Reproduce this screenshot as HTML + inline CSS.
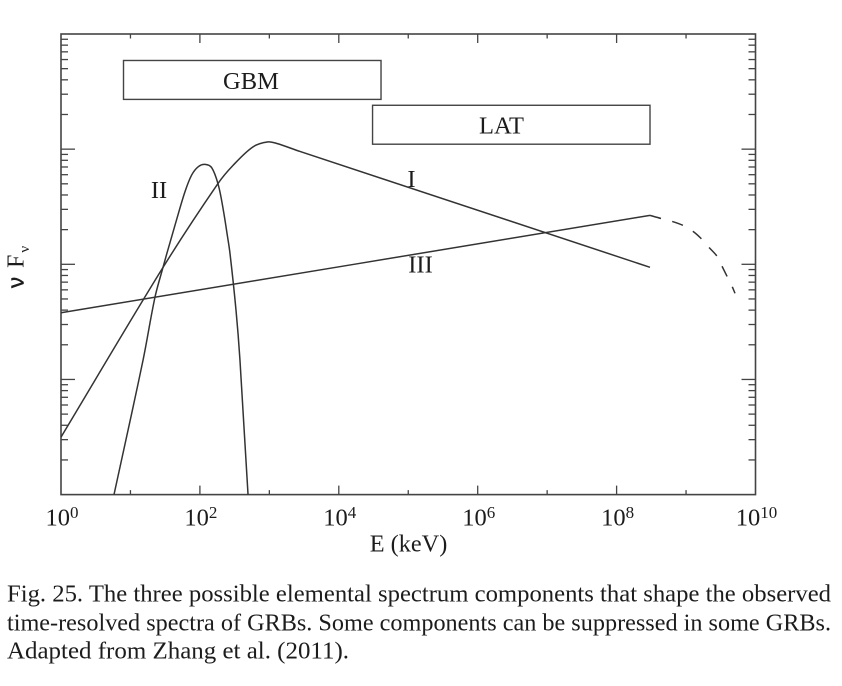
<!DOCTYPE html>
<html>
<head>
<meta charset="utf-8">
<title>GRB spectrum components</title>
<style>
html,body{margin:0;padding:0;background:#fff;}
svg{display:block;filter:blur(0.3px);}
text{font-family:"Liberation Serif",serif;fill:#1c1c1c;}
</style>
</head>
<body>
<svg id="chart" xmlns="http://www.w3.org/2000/svg" width="842" height="686" viewBox="0 0 842 686">
  <rect x="61" y="34" width="694.5" height="460.6" fill="none" stroke="#444" stroke-width="1.6"/>
  <g id="ticks"></g>
  <g id="xlabels"></g>
  <g id="bands"></g>
  <g id="series"></g>
  <text x="408.5" y="551.5" font-size="24.3" text-anchor="middle">E (keV)</text>
  <text transform="translate(23.5,288) rotate(-90)" font-size="24"><tspan font-family="Liberation Sans" stroke="#1c1c1c" stroke-width="0.5" font-size="22">&#957;</tspan><tspan dx="9">F</tspan><tspan font-size="15" dx="2" dy="5.5">&#957;</tspan></text>
  <text x="411.5" y="187" font-size="24.5" text-anchor="middle">I</text>
  <text x="159" y="198" font-size="24.5" text-anchor="middle">II</text>
  <text x="420.5" y="272.5" font-size="24.5" text-anchor="middle">III</text>
  <g font-size="24">
    <text x="7" y="601.5" textLength="824" lengthAdjust="spacingAndGlyphs">Fig. 25. The three possible elemental spectrum components that shape the observed</text>
    <text x="7" y="630.5" textLength="824" lengthAdjust="spacingAndGlyphs">time-resolved spectra of GRBs. Some components can be suppressed in some GRBs.</text>
    <text x="7" y="658.5" textLength="342" lengthAdjust="spacingAndGlyphs">Adapted from Zhang et al. (2011).</text>
  </g>
</svg>
<script>
// Data: log10(E / keV) and log10(nuFnu) in decades above the bottom of the axis
var xTickExponents = [0, 2, 4, 6, 8, 10];
var yDecades = [0, 1, 2, 3];
var componentILogE = [0, 1.469, 2.261, 2.477, 2.765, 2.981, 3.11, 3.441, 8.481];
var componentILogF = [0.499, 1.973, 2.702, 2.859, 3.02, 3.063, 3.049, 2.98, 1.974];
var componentIILogE = [0.763, 1.181, 1.353, 1.469, 1.526, 1.656, 1.785, 1.882, 1.977, 2.073, 2.17, 2.265, 2.337, 2.394, 2.433, 2.52, 2.577, 2.693];
var componentIILogF = [0, 1.167, 1.714, 1.974, 2.098, 2.37, 2.63, 2.776, 2.848, 2.868, 2.839, 2.689, 2.472, 2.255, 2.096, 1.601, 1.167, 0];
var componentIIILogE = [0, 8.481];
var componentIIILogF = [1.579, 2.425];
var cutoffLogE = [8.481, 8.639, 8.798, 8.956, 9.1, 9.215, 9.33, 9.446, 9.518, 9.59, 9.662, 9.705];
var cutoffLogF = [2.425, 2.398, 2.373, 2.338, 2.286, 2.225, 2.147, 2.07, 1.983, 1.896, 1.809, 1.748];
var gbmLogE = [0.9, 4.608];
var gbmLogF = [3.432, 3.77];
var gbmLabelLogE = [2.735];
var latLogE = [4.486, 8.481];
var latLogF = [3.043, 3.381];
var latLabelLogE = [6.343];

var NS = 'http://www.w3.org/2000/svg';
function xScale(v) { return 61 + v * 69.45; }
function yScale(v) { return 494.6 - v * 115.15; }
function make(tag, parent) {
  var el = document.createElementNS(NS, tag);
  parent.appendChild(el);
  return el;
}
function tickLine(x1, y1, x2, y2, parent, width) {
  var el = make('line', parent);
  el.setAttribute('x1', x1);
  el.setAttribute('y1', y1);
  el.setAttribute('x2', x2);
  el.setAttribute('y2', y2);
  el.setAttribute('stroke', '#444');
  el.setAttribute('stroke-width', width);
  
  
}
var ticksG = document.getElementById('ticks');
var i, d, k;
for (i = 1; i < 10; i++) {
  var major = i % 2 === 0;
  var tlen = major ? 9 : 4.5;
  tickLine(xScale(i), 494.6, xScale(i), 494.6 - tlen, ticksG, 1.3);
  tickLine(xScale(i), 34, xScale(i), 34 + tlen, ticksG, 1.3);
}
for (d = 0; d < yDecades.length; d++) {
  for (k = 1; k < 10; k++) {
    if (d === 0 && k === 1) continue;
    var yv = yScale(yDecades[d] + Math.log10(k));
    var ylen = k === 1 ? 14 : 7;
    tickLine(61, yv, 61 + ylen, yv, ticksG, 1.3);
    tickLine(755.5, yv, 755.5 - ylen, yv, ticksG, 1.3);
  }
}
var labelsG = document.getElementById('xlabels');
xTickExponents.forEach(function (exp) {
  var t = make('text', labelsG);
  
  
  t.setAttribute('x', xScale(exp) + 1);
  t.setAttribute('y', 525.7);
  t.setAttribute('font-size', '24.5');
  t.setAttribute('text-anchor', 'middle');
  var base = make('tspan', t);
  base.textContent = '10';
  var sup = make('tspan', t);
  sup.setAttribute('font-size', '17');
  sup.setAttribute('dy', '-7.5');
  sup.textContent = String(exp);
});
function smoothPath(xs, ys) {
  var px = xs.map(xScale);
  var py = ys.map(yScale);
  var n = px.length;
  function tangent(j) {
    var a = Math.max(j - 1, 0);
    var b = Math.min(j + 1, n - 1);
    var dx = px[b] - px[a];
    var dy = py[b] - py[a];
    var len = Math.sqrt(dx * dx + dy * dy) || 1;
    return [dx / len, dy / len];
  }
  var out = 'M' + px[0].toFixed(2) + ' ' + py[0].toFixed(2);
  for (var j = 0; j < n - 1; j++) {
    var seg = Math.sqrt(Math.pow(px[j + 1] - px[j], 2) + Math.pow(py[j + 1] - py[j], 2));
    var t0 = tangent(j);
    var t1 = tangent(j + 1);
    var c = seg / 3;
    out += ' C' + (px[j] + t0[0] * c).toFixed(2) + ' ' + (py[j] + t0[1] * c).toFixed(2) +
      ' ' + (px[j + 1] - t1[0] * c).toFixed(2) + ' ' + (py[j + 1] - t1[1] * c).toFixed(2) +
      ' ' + px[j + 1].toFixed(2) + ' ' + py[j + 1].toFixed(2);
  }
  return out;
}
function drawSeries(name, xs, ys, dash) {
  var p = make('path', document.getElementById('series'));
  p.setAttribute('d', smoothPath(xs, ys));
  p.setAttribute('fill', 'none');
  p.setAttribute('stroke', '#333');
  p.setAttribute('stroke-width', '1.5');
  p.setAttribute('stroke-linejoin', 'round');
  if (dash) p.setAttribute('stroke-dasharray', dash);
  
  
}
drawSeries('component-i-line', componentILogE, componentILogF);
drawSeries('component-ii-line', componentIILogE, componentIILogF);
drawSeries('component-iii-line', componentIIILogE, componentIIILogF);
drawSeries('component-iii-cutoff-dashed', cutoffLogE, cutoffLogF, '11.4 11.6');
function drawBand(name, label, xs, ys, labelX) {
  var g = make('g', document.getElementById('bands'));
  
  
  var r = make('rect', g);
  r.setAttribute('x', xScale(xs[0]));
  r.setAttribute('y', yScale(ys[1]));
  r.setAttribute('width', xScale(xs[1]) - xScale(xs[0]));
  r.setAttribute('height', yScale(ys[0]) - yScale(ys[1]));
  r.setAttribute('fill', 'none');
  r.setAttribute('stroke', '#444');
  r.setAttribute('stroke-width', '1.4');
  
  
  var t = make('text', g);
  t.setAttribute('x', xScale(labelX[0]));
  t.setAttribute('y', yScale(ys[0]) - 10.6);
  t.setAttribute('font-size', '24.5');
  t.setAttribute('text-anchor', 'middle');
  
  
  t.textContent = label;
}
drawBand('gbm-band', 'GBM', gbmLogE, gbmLogF, gbmLabelLogE);
drawBand('lat-band', 'LAT', latLogE, latLogF, latLabelLogE);
</script>
</body>
</html>
